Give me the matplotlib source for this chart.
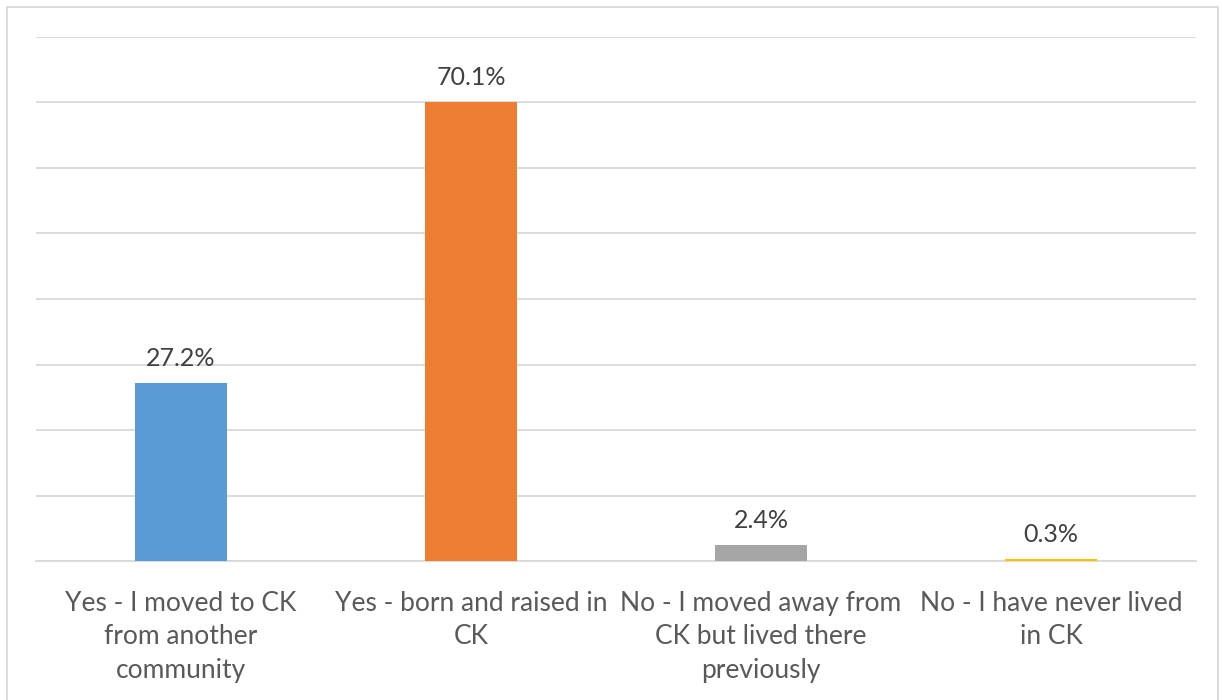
import matplotlib.pyplot as plt
from matplotlib.patches import Rectangle

categories = ['Yes - I moved to CK\nfrom another\ncommunity',
              'Yes - born and raised in\nCK',
              'No - I moved away from\nCK but lived there\npreviously',
              'No - I have never lived\nin CK']
values = [27.2, 70.1, 2.4, 0.3]
colors = ['#5b9bd5', '#ed7d31', '#a5a5a5', '#ffc000']

plt.rcParams['font.family'] = ['Lato', 'DejaVu Sans']

fig = plt.figure(figsize=(12.22, 7), dpi=100)
ax = fig.add_axes([36 / 1222, 139 / 700, 1160 / 1222, 524 / 700])

x = range(len(values))
ax.bar(x, values, width=0.314, color=colors, zorder=3)
for i, v in zip(x, values):
    ax.text(i, v + 2.0, '{:.1f}%'.format(v), ha='center', va='bottom',
            fontsize=18, color='#404040')

ax.set_xlim(-0.5, len(values) - 0.5)
ax.set_ylim(0, 80)
ax.set_yticks(range(0, 81, 10))
ax.yaxis.grid(True, color='#d9d9d9', linewidth=1.3, zorder=0)
ax.tick_params(axis='y', left=False, labelleft=False)
ax.tick_params(axis='x', bottom=False, pad=18)
ax.set_xticks(list(x))
ax.set_xticklabels(categories, fontsize=19, color='#595959', linespacing=1.42)
for s in ['top', 'right', 'left']:
    ax.spines[s].set_visible(False)
ax.spines['bottom'].set_color('#d9d9d9')
ax.spines['bottom'].set_linewidth(1.3)

fig.patches.append(Rectangle((7 / 1222, -0.01), 1211 / 1222, 693 / 700 + 0.01,
                             transform=fig.transFigure, fill=False,
                             edgecolor='#d9d9d9', linewidth=1.3))

fig.savefig('out.png', dpi=100)
